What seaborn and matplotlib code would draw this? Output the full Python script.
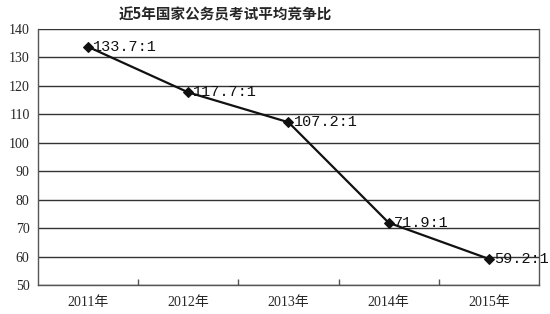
import matplotlib
matplotlib.use("Agg")
import matplotlib.pyplot as plt
import seaborn as sns
import pandas as pd

years = ["2011年", "2012年", "2013年", "2014年", "2015年"]
ratios = [133.7, 117.7, 107.2, 71.9, 59.2]
labels = ["133.7:1", "117.7:1", "107.2:1", "71.9:1", "59.2:1"]
title = "近5年国家公务员考试平均竞争比"

sns.set_theme(style="white")
plt.rcParams['font.family'] = ['Liberation Serif', 'Noto Sans CJK SC', 'DejaVu Sans']

df = pd.DataFrame({"year": years, "ratio": ratios})

fig = plt.figure(figsize=(5.5, 3.14), dpi=100)
ax = fig.add_axes([0.069, 0.092, 0.911, 0.816])

ax.set_ylim(50, 140)
ax.set_yticks(range(50, 141, 10))
ax.grid(axis="y", color="#333333", linewidth=1.0)
ax.set_axisbelow(True)

sns.lineplot(data=df, x="year", y="ratio", ax=ax, color="#111111", linewidth=1.6,
             marker="D", markersize=5.5, markeredgecolor="#111111", markerfacecolor="#111111")

for i, (v, lab) in enumerate(zip(ratios, labels)):
    ax.text(i + 0.05, v, lab, fontsize=11, va="center", ha="left",
            family=['Liberation Mono', 'DejaVu Sans Mono'], color="#111111")

ax.set_xlim(-0.5, 4.5)
ax.set_xlabel("")
ax.set_ylabel("")
for s in ["left", "bottom", "right"]:
    ax.spines[s].set_visible(True)
    ax.spines[s].set_color("#555555")
    ax.spines[s].set_linewidth(1.0)
ax.spines["top"].set_visible(False)

ax.set_xticks([0, 1, 2, 3, 4])
ax.set_xticklabels(years, fontsize=10)
ax.set_xticks([0.5, 1.5, 2.5, 3.5], minor=True)
ax.tick_params(axis="x", which="major", length=0, pad=8)
ax.tick_params(axis="x", which="minor", length=4, direction="in", color="#555555", bottom=True)
ax.tick_params(axis="y", length=0, labelsize=10, pad=6)

fig.text(0.41, 0.955, title, ha="center", va="center", fontsize=10.5, fontweight="bold",
         family=['Noto Sans CJK SC'])

fig.savefig("out.png", dpi=100, facecolor="white")
